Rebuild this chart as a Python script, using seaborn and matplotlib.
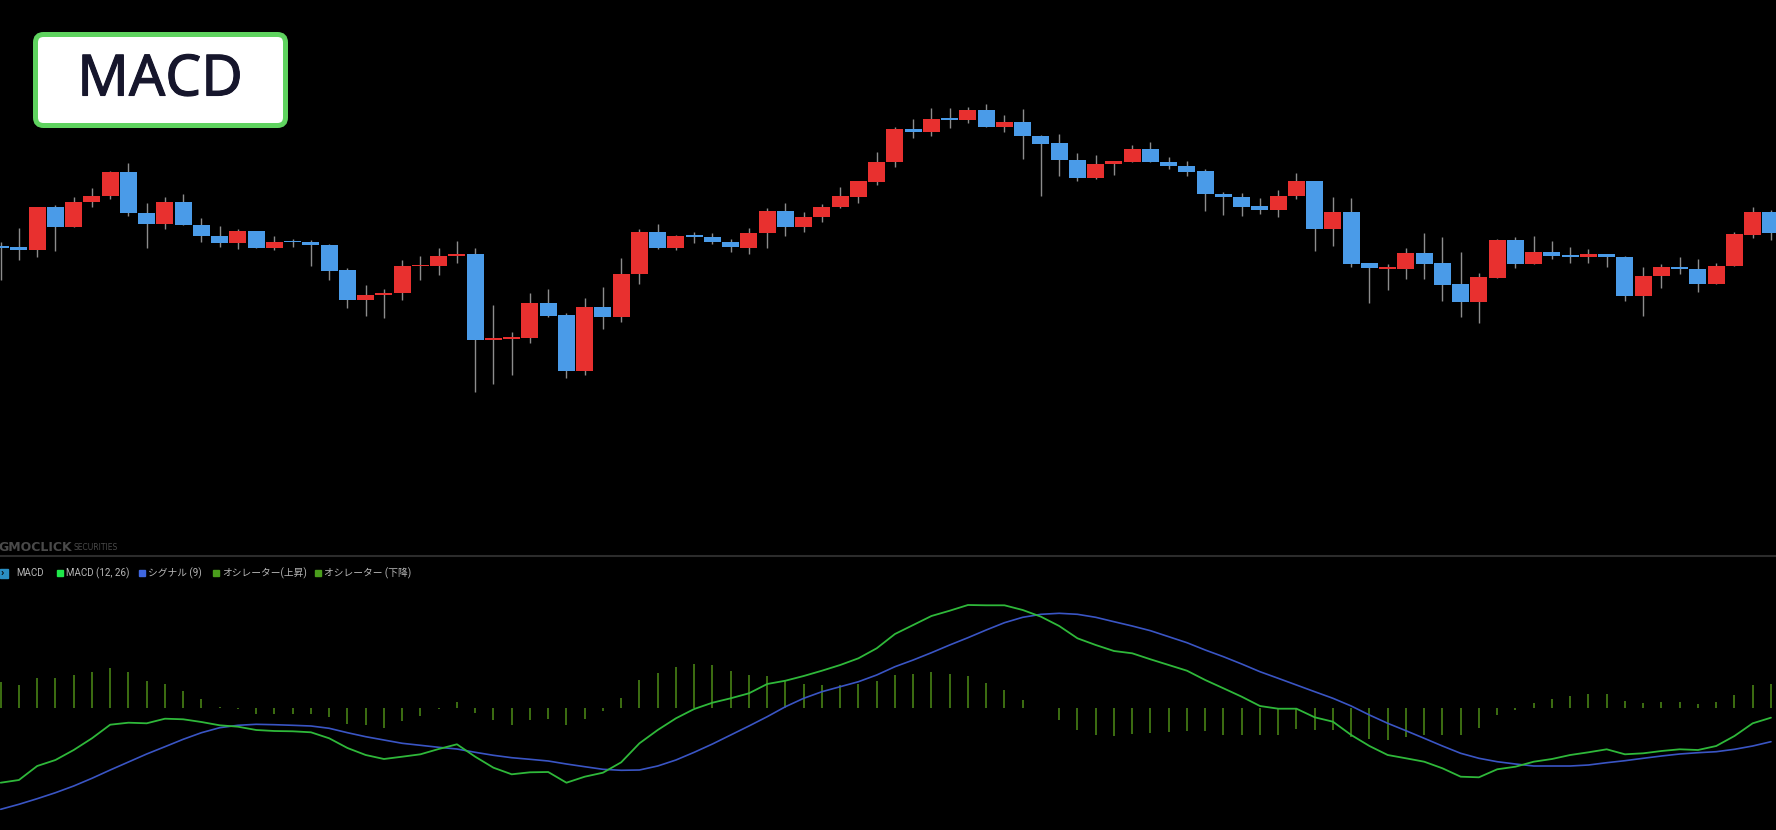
import numpy as np
import pandas as pd
import matplotlib
matplotlib.use("Agg")
import matplotlib.pyplot as plt
import matplotlib.patheffects as pe
import seaborn as sns
from matplotlib.patches import FancyBboxPatch, Rectangle
from matplotlib.transforms import IdentityTransform

# ローソク足 (価格は任意単位)
open_ = [154, 153, 150, 193, 173, 198, 204, 228, 187, 176, 198, 175, 164, 157, 169, 152, 158, 158, 155, 130,
         100, 105, 107, 133.5, 134, 144, 146, 60, 61, 62, 97, 85, 29, 93, 83, 126, 168, 152, 164, 163,
         158, 152, 167, 189, 173, 183, 193, 203, 218, 238, 271, 268, 282, 280, 290, 273, 278, 264, 257, 240,
         222, 236, 238, 251, 238, 234, 229, 206, 203, 194, 190, 204, 219, 171, 188, 137, 131.3, 131, 147, 137,
         116, 98, 122, 160, 136, 148, 144, 143, 146, 143, 104, 124, 133, 131, 116, 134, 165, 188]
close = [152, 150, 193, 173, 198, 204, 228, 187, 176, 198, 175, 164, 157, 169, 152, 158, 157.5, 155, 129, 100,
         105, 107, 134, 134.5, 144, 146, 60, 61, 63, 97, 84, 29, 93, 83, 126, 168, 152, 164, 163, 158,
         153, 167, 189, 173, 183, 193, 204, 219, 238, 271, 268, 281, 280, 290, 273, 278, 264, 256, 240, 222,
         236, 239, 251, 238, 234, 228, 206, 203, 193, 190, 204, 219, 171, 188, 136, 132, 132, 147, 136, 115,
         98, 123, 160, 136, 148, 144, 143, 146, 143, 104, 124, 133, 131, 116, 134, 166, 188, 167]
high = [158, 172, 193, 195, 203, 212, 229, 237, 197, 203, 206, 182, 174, 171, 169, 164, 161, 160, 156, 132,
        115, 111, 140, 144, 152, 159, 152, 95, 68, 107, 111, 87, 102, 113, 142, 171, 176, 165, 168, 167,
        161, 172, 192, 197, 188, 196, 213, 219, 248, 273, 281, 292, 292, 293, 296, 285, 291, 265, 266, 247,
        245, 239, 255, 258, 243, 239, 231, 208, 207, 202, 210, 227, 219, 203, 202, 137, 136, 152, 167, 163,
        148, 127, 161, 163, 164, 159, 153, 151, 146, 144, 133, 136, 143, 141, 137, 168, 193, 190]
low = [120, 140, 143, 149, 173, 193, 201, 184, 152, 171, 175, 158, 153, 151, 152, 150, 153, 134, 120, 92,
       84, 82, 100, 120, 125, 137, 8, 16, 25, 57, 83, 22, 25, 71, 78, 116, 151, 150, 157, 156,
       148, 146, 152, 164, 168, 178, 192, 197, 215, 233, 262, 264, 272, 277, 273, 268, 241, 204, 224, 219,
       221, 225, 238, 238, 231, 224, 189, 185, 184, 186, 183, 201, 149, 154, 133, 97, 110, 121, 121, 99,
       83, 77, 122, 132, 136, 141, 137, 137, 133, 99, 84, 112, 126, 108, 116, 134, 162, 160]

# MACD パネル
macd = [-74.7, -72, -58, -52, -42, -30.3, -16.7, -14.7, -15.3, -10.7, -11.3, -14, -17.3, -18.7, -22, -23, -23.3, -24.3, -30.3, -40,
        -47, -51, -48.7, -46.3, -41, -36.3, -48.7, -59.7, -66.3, -64.3, -64, -74.7, -68.7, -64.7, -54.3, -35.3, -22, -10.3, -1, 5.3,
        9.7, 14.7, 24, 27.3, 32, 37.3, 43, 49.7, 59.7, 74, 83, 92, 97.3, 103, 102.7, 102.7, 98, 91.3, 82, 69.7,
        63, 57, 54.7, 48.7, 43, 37.3, 28, 19.7, 11.3, 2, -0.7, -0.7, -9.3, -13.7, -27, -38, -47, -50.3, -53.7, -60.3,
        -68.7, -69.3, -61.3, -58.7, -53.7, -51, -47, -44.3, -41.3, -46.3, -45.3, -43, -41.3, -42, -38, -28, -15.3, -9.7]
signal = [-101.3, -96.3, -90.7, -84.7, -78, -70.3, -62, -54, -46, -38.7, -31.3, -24.7, -19.7, -17.3, -16.3, -16.7, -17.3, -18, -20.3, -24.7,
          -28.7, -32, -35.3, -37.3, -39.3, -41, -44.3, -47.3, -49.7, -51.3, -53, -56, -58.7, -61.3, -62.3, -62, -58, -52, -44.3, -36,
          -27, -18, -8.7, 1.3, 9.7, 16.3, 21.3, 26.3, 33, 41.3, 48, 55.3, 63, 70.3, 78, 85.3, 90.7, 93.7, 94.7, 93.7,
          90.7, 86.3, 82, 77.3, 71.3, 65.3, 58, 51.3, 44, 36.3, 29.7, 23, 16.3, 9.7, 2, -7, -15.3, -22.7, -30.3, -38,
          -45.3, -50.3, -53.7, -56, -58, -58, -58, -57, -54.7, -52.7, -50.3, -48, -46, -44.7, -43.7, -41.3, -38, -33.7]
osc = [26, 23.3, 30.3, 30, 32.7, 35.7, 40.3, 35.7, 27, 23.7, 16.7, 9.3, 1, -0.7, -6.3, -6.3, -6.3, -6.3, -9, -15.7,
       -17.3, -19.7, -13.3, -8, -1.3, 5.7, -5, -12.3, -17.3, -12.3, -10.7, -17.3, -10.7, -3, 10.3, 28.3, 35, 41, 43.7, 42.7,
       37, 33.3, 31.7, 27.7, 23.7, 22.7, 22.7, 24.3, 27, 32.7, 34.3, 35.7, 34.3, 32.3, 25, 18.3, 8.3, 0.3, -11.7, -21.7,
       -26.7, -28, -25.7, -24.7, -24, -23, -23.3, -27.3, -26.7, -26.7, -26.7, -20.7, -22.3, -22.3, -29, -30.7, -32.3, -29, -26.7, -27.3,
       -27.3, -20, -7.3, -2.3, 5, 9, 11.7, 13.7, 14.3, 7, 5, 6, 6, 3.7, 6, 13.3, 22.7, 24.3]

legend_labels = ["MACD (12, 26)", "シグナル (9)", "オシレーター(上昇)", "オシレーター (下降)"]
legend_colors = ["#1fe84a", "#3f67e0", "#4a9d1c", "#4a9d1c"]

UP = "#e8302f"
DOWN = "#4a9be8"

W, H = 1776, 830
sns.set_theme(style="dark", rc={"figure.facecolor": "black", "axes.facecolor": "black",
                                "savefig.facecolor": "black"})
plt.rcParams["font.family"] = ["Roboto", "Noto Sans CJK JP", "DejaVu Sans"]

fig = plt.figure(figsize=(W / 100, H / 100), dpi=100)
split = 274 / H
ax = fig.add_axes([0, split, 1, 1 - split])
ax2 = fig.add_axes([0, 0, 1, split])

df = pd.DataFrame({"open": open_, "high": high, "low": low, "close": close})
df["i"] = np.arange(len(df))
df["up"] = df["close"] >= df["open"]
colors = np.where(df["up"], UP, DOWN)

xlim = (-0.7 / 18.25, (W - 0.7) / 18.25)

# ヒゲ
ax.vlines(df["i"], df["low"], df["high"], color="#8c8c8c", lw=1, zorder=1)
# 実体
bottom = df[["open", "close"]].min(axis=1)
height = (df["close"] - df["open"]).abs().clip(lower=1.6)
ax.bar(df["i"], height, bottom=bottom, width=0.93, color=colors, linewidth=0, zorder=2)
ax.set_xlim(*xlim)
ax.set_ylim(400 - 556, 400)
ax.axis("off")

# MACD
mdf = pd.DataFrame({"i": np.arange(len(macd)), "macd": macd, "signal": signal, "osc": osc})
ax2.vlines(mdf["i"], 0, mdf["osc"], color="#4e8c17", lw=1.1, zorder=1)
sns.lineplot(data=mdf, x="i", y="signal", ax=ax2, color="#3a55c4", lw=1.2, zorder=2)
sns.lineplot(data=mdf, x="i", y="macd", ax=ax2, color="#2fb83a", lw=1.3, zorder=3)
ax2.set_xlim(*xlim)
ax2.set_ylim(708 - 830, 708 - 556)
ax2.axis("off")

# 区切り線
fig.add_artist(plt.Line2D([0, 1], [split, split], transform=fig.transFigure, color="#2c2c2c", lw=1.5))


def fx(x):
    return x / W


def fy(y):
    return 1 - y / H


# ウォーターマーク
fig.text(fx(-2), fy(547), "GMOCLICK", color="#4a4a4a", fontsize=9, fontweight="bold",
         family="DejaVu Sans", va="center", ha="left")
fig.text(fx(73), fy(547.5), "SECURITIES", color="#4a4a4a", fontsize=5.5, va="center", ha="left",
         family="DejaVu Sans")

# 凡例
ly = 573
fig.add_artist(Rectangle((0, H - ly - 4.5), 8, 9, transform=IdentityTransform(), color="#2a8fc4"))
fig.text(fx(1), fy(ly), "›", color="#0a0a0a", fontsize=8, fontweight="bold", va="center", ha="left")
fig.text(fx(16), fy(ly), "MACD", color="#b8b8b8", fontsize=7, va="center", ha="left")
xs = [57, 139, 213, 315]
for x, lab, c in zip(xs, legend_labels, legend_colors):
    fig.add_artist(Rectangle((x, H - ly - 3), 6, 6, transform=IdentityTransform(), color=c))
    fig.text(fx(x + 9), fy(ly), lab, color="#b8b8b8", fontsize=7, va="center", ha="left")

# タイトル
box = FancyBboxPatch((35.5, H - 125.5), 250, 91, boxstyle="round,pad=0,rounding_size=8",
                     transform=IdentityTransform(), facecolor="white", edgecolor="#5fd35f", lw=3.6)
fig.add_artist(box)
fig.text(fx(160), fy(81), "MACD", color="#16162c", fontsize=41,
         family=["Noto Sans", "DejaVu Sans"], ha="center", va="center",
         path_effects=[pe.withStroke(linewidth=0.8, foreground="#16162c")])

fig.savefig("out.png", dpi=100, facecolor="black")
